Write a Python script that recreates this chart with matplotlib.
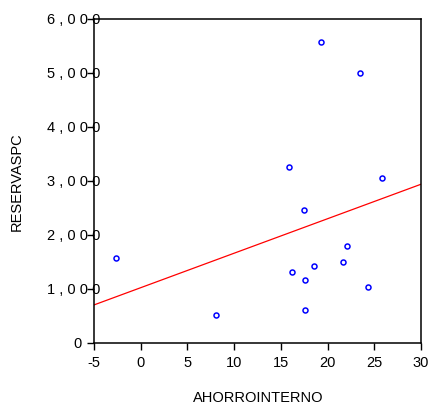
import matplotlib.pyplot as plt
from matplotlib.transforms import offset_copy

# datos
ahorro = [19.3, 23.5, 15.9, 25.8, 17.5, 22.1, 21.6, 16.2, 18.5, 17.6, 24.3, 17.6, 8.1, -2.6]
reservas = [5575, 5000, 3255, 3060, 2465, 1795, 1505, 1310, 1420, 1165, 1030, 605, 520, 1570]
recta_x = [-5, 30]
recta_y = [705, 2940]

xticks = [-5, 0, 5, 10, 15, 20, 25, 30]
yticks = [0, 1000, 2000, 3000, 4000, 5000, 6000]
ylabels = ['0', '1 , 0 0 0', '2 , 0 0 0', '3 , 0 0 0', '4 , 0 0 0', '5 , 0 0 0', '6 , 0 0 0']

plt.rcParams['font.family'] = ['Liberation Sans', 'DejaVu Sans']

fig = plt.figure(figsize=(4.3, 4.06), dpi=100)
ax = fig.add_axes([94/430, 62/406, 327/430, 324/406])

ax.plot(recta_x, recta_y, color='red', lw=0.9)
ax.plot(ahorro, reservas, 'o', ms=3.6, mfc='none', mec='blue', mew=1.1)

ax.set_xlim(-5, 30)
ax.set_ylim(0, 6000)
ax.set_xticks(xticks)
ax.set_xticklabels([str(v) for v in xticks])
ax.set_yticks(yticks)
ax.set_yticklabels([])
ax.tick_params(length=5, width=1.0, labelsize=10.5, pad=4, color='black')

# etiquetas del eje y (espaciadas como en el original)
tr = ax.get_yaxis_transform()
for v, lab in zip(yticks, ylabels):
    if lab == '0':
        ax.text(-0.037, v, lab, transform=tr, ha='right', va='center', fontsize=10.5)
    else:
        ax.text(0.018, v, lab, transform=tr, ha='right', va='center', fontsize=10.5)

for s in ax.spines.values():
    s.set_linewidth(1.1)
    s.set_color('black')

fig.text(258/430, 1 - 398/406, 'AHORROINTERNO', ha='center', va='center', fontsize=10.5)
fig.text(17/430, 1 - 182/406, 'RESERVASPC', ha='center', va='center', rotation=90, fontsize=10.5)

fig.savefig('out.png', dpi=100)
